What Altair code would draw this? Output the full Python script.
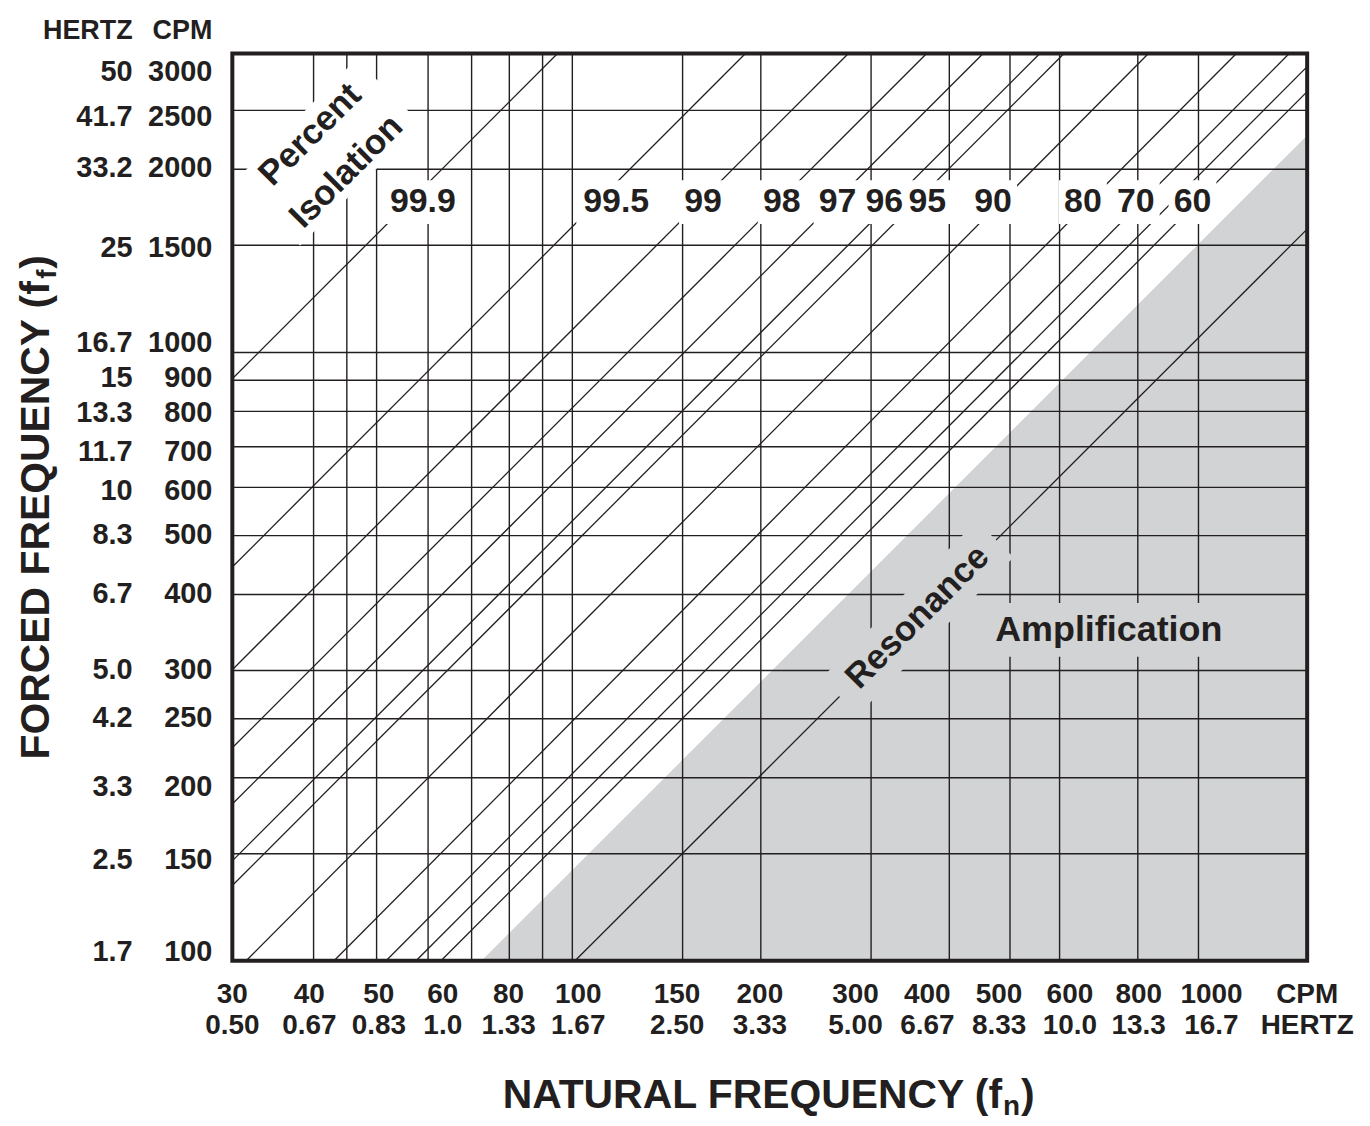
import altair as alt
import pandas as pd

FONT = "Liberation Sans, Arial, Helvetica, sans-serif"
INK = "#231f20"
GRAY = "#d1d3d4"
W, H = 1078, 910

# ---------------- data ----------------
# grid lines (CPM)
x_grid_cpm = [40, 45, 50, 60, 70, 80, 90, 100, 150, 200, 300, 400, 500, 600, 800, 1000]
y_grid_cpm = [150, 200, 250, 300, 400, 500, 600, 700, 800, 900, 1000, 1500, 2000, 2500]

# x axis labels (two rows), anchored where the reference prints them
x_label_anchor = [30, 39.4, 50.4, 63.2, 79.8, 102.2, 147.0, 199.3, 283.3, 368.9, 480.3,
                  623.2, 802.7, 1049.5, 1500]
x_label_cpm = ["30", "40", "50", "60", "80", "100", "150", "200", "300", "400", "500",
               "600", "800", "1000", "CPM"]
x_label_hz = ["0.50", "0.67", "0.83", "1.0", "1.33", "1.67", "2.50", "3.33", "5.00",
              "6.67", "8.33", "10.0", "13.3", "16.7", "HERTZ"]

# y axis labels (two columns), anchored where the reference prints them
y_label_anchor = [2888, 2437, 2011, 1487, 1035, 907, 795, 686, 592, 501, 401, 301, 250.5, 193, 146.6, 103.2]
y_label_cpm = ["3000", "2500", "2000", "1500", "1000", "900", "800", "700", "600", "500",
               "400", "300", "250", "200", "150", "100"]
y_label_hz = ["50", "41.7", "33.2", "25", "16.7", "15", "13.3", "11.7", "10", "8.3",
              "6.7", "5.0", "4.2", "3.3", "2.5", "1.7"]

# percent-isolation lines: start / end points (natural freq CPM, forced freq CPM)
iso_pct = ["99.9", "99.5", "99", "98", "97", "96", "95", "90", "80", "70", "60", "50"]
iso_fn_start = [30, 30, 30, 30, 30, 30, 30, 31.5, 43.0, 51.7, 57.5, 62.8]
iso_f_start = [905, 444, 301, 224, 181, 146, 133, 100, 100, 100, 100, 100]
iso_fn_end = [94.9, 189, 276, 368, 453, 558, 610, 832, 1152, 1403, 1500, 1500]
iso_f_end = [3100, 3100, 3100, 3100, 3100, 3100, 3100, 3100, 3100, 3100, 2950, 2684]

# resonance line
res_fn = [101, 1500]
res_f = [100, 1595]

# amplification region boundary
amp_fn = [72.5, 1500]
amp_f = [100, 2274]

# labels of the isolation lines
label_pct = ["99.9", "99.5", "99", "98", "97", "96", "95", "90", "80", "70", "60"]
label_fn = [58.9, 117.5, 161.7, 216.0, 265.2, 315.0, 368.9, 469.9, 653.7, 794.0, 978.2]
label_f = [1766] * 11

# annotation anchors
pct_text = ["Percent", "Isolation"]
pct_fn = [39.5, 44.9]
pct_f = [2282, 1985]
pct_mask_fn = [34.0, 52.2]
pct_mask_f = [1695, 2683]
res_text_fn, res_text_f = 355.6, 367.5
res_mask_fn = [267.2, 473.4]
res_mask_f = [271.8, 493.3]
amp_text_fn, amp_text_f = 719, 350

# ---------------- scales ----------------
xs = alt.Scale(type="log", domain=[30, 100, 1000, 1500], range=[0, 341, 969, 1078], nice=False)
ys = alt.Scale(type="log", domain=[100, 3100], nice=False)


def X(f):
    return alt.X(f, type="quantitative", scale=xs, axis=None)


def Y(f):
    return alt.Y(f, type="quantitative", scale=ys, axis=None)


one = pd.DataFrame({"k": [0]})

amp_df = pd.DataFrame({"fn": amp_fn, "f": amp_f, "base": [100, 100]})
area = alt.Chart(amp_df).mark_area(color=GRAY).encode(x=X("fn"), y=Y("f"), y2=alt.Y2("base"))

vgrid = alt.Chart(pd.DataFrame({"v": x_grid_cpm})).mark_rule(color=INK, strokeWidth=1.4).encode(x=X("v"))
hgrid = alt.Chart(pd.DataFrame({"v": y_grid_cpm})).mark_rule(color=INK, strokeWidth=1.4).encode(y=Y("v"))

iso_df = pd.DataFrame({"pct": iso_pct, "fn": iso_fn_start, "f": iso_f_start,
                       "fn2": iso_fn_end, "f2": iso_f_end})
iso = alt.Chart(iso_df).mark_rule(color=INK, strokeWidth=1.3).encode(
    x=X("fn"), y=Y("f"), x2=alt.X2("fn2"), y2=alt.Y2("f2"))

res_df = pd.DataFrame({"fn": [res_fn[0]], "f": [res_f[0]], "fn2": [res_fn[1]], "f2": [res_f[1]]})
res = alt.Chart(res_df).mark_rule(color=INK, strokeWidth=1.3).encode(
    x=X("fn"), y=Y("f"), x2=alt.X2("fn2"), y2=alt.Y2("f2"))

lab_df = pd.DataFrame({"pct": label_pct, "fn": label_fn, "f": label_f})
wide = lab_df[lab_df["pct"].isin(["99.9", "99.5"])]
narrow = lab_df[~lab_df["pct"].isin(["99.9", "99.5"])]
box_wide = alt.Chart(wide).mark_rect(color="white", xOffset=-40, x2Offset=40, yOffset=-22, y2Offset=22).encode(
    x=X("fn"), x2=alt.X2("fn"), y=Y("f"), y2=alt.Y2("f"))
box_narrow = alt.Chart(narrow).mark_rect(color="white", xOffset=-24, x2Offset=24, yOffset=-22, y2Offset=22).encode(
    x=X("fn"), x2=alt.X2("fn"), y=Y("f"), y2=alt.Y2("f"))

pm_df = pd.DataFrame({"fn": [pct_mask_fn[0]], "f": [pct_mask_f[0]], "fn2": [pct_mask_fn[1]], "f2": [pct_mask_f[1]]})
pct_mask = alt.Chart(pm_df).mark_rule(color="white", strokeWidth=92, strokeCap="butt").encode(
    x=X("fn"), y=Y("f"), x2=alt.X2("fn2"), y2=alt.Y2("f2"))

rm_df = pd.DataFrame({"fn": [res_mask_fn[0]], "f": [res_mask_f[0]], "fn2": [res_mask_fn[1]], "f2": [res_mask_f[1]]})
res_mask = alt.Chart(rm_df).mark_rule(color=GRAY, strokeWidth=52, strokeCap="butt").encode(
    x=X("fn"), y=Y("f"), x2=alt.X2("fn2"), y2=alt.Y2("f2"))

am_df = pd.DataFrame({"fn": [amp_text_fn], "f": [amp_text_f]})
amp_mask = alt.Chart(am_df).mark_rect(color=GRAY, xOffset=-122, x2Offset=122, yOffset=-27, y2Offset=27).encode(
    x=X("fn"), x2=alt.X2("fn"), y=Y("f"), y2=alt.Y2("f"))

txt = dict(font=FONT, fontWeight="bold", color=INK)

band_labels = alt.Chart(lab_df).mark_text(fontSize=34, baseline="middle", **txt).encode(
    x=X("fn"), y=Y("f"), text=alt.Text("pct:N"))

pct_df = pd.DataFrame({"t": pct_text, "fn": pct_fn, "f": pct_f})
pct_labels = alt.Chart(pct_df).mark_text(fontSize=35, angle=315, baseline="middle", **txt).encode(
    x=X("fn"), y=Y("f"), text=alt.Text("t:N"))

res_label = alt.Chart(pd.DataFrame({"fn": [res_text_fn], "f": [res_text_f]})).mark_text(
    text="Resonance", fontSize=35, angle=315, baseline="middle", **txt).encode(x=X("fn"), y=Y("f"))

amp_label = alt.Chart(am_df).mark_text(text="Amplification", fontSize=36, baseline="middle", **txt).encode(
    x=X("fn"), y=Y("f"))

xl_df = pd.DataFrame({"pos": x_label_anchor, "cpm": x_label_cpm, "hz": x_label_hz})
x_row1 = alt.Chart(xl_df).mark_text(fontSize=28, baseline="alphabetic", **txt).encode(
    x=X("pos"), y=alt.value(952), text=alt.Text("cpm:N"))
x_row2 = alt.Chart(xl_df).mark_text(fontSize=28, baseline="alphabetic", **txt).encode(
    x=X("pos"), y=alt.value(983), text=alt.Text("hz:N"))

yl_df = pd.DataFrame({"pos": y_label_anchor, "cpm": y_label_cpm, "hz": y_label_hz})
y_col_hz = alt.Chart(yl_df).mark_text(fontSize=29, align="right", baseline="middle", **txt).encode(
    x=alt.value(-100), y=Y("pos"), text=alt.Text("hz:N"))
y_col_cpm = alt.Chart(yl_df).mark_text(fontSize=29, align="right", baseline="middle", **txt).encode(
    x=alt.value(-20), y=Y("pos"), text=alt.Text("cpm:N"))

hdr_hz = alt.Chart(one).mark_text(text="HERTZ", fontSize=27, align="right", baseline="alphabetic", **txt).encode(
    x=alt.value(-100), y=alt.value(-15))
hdr_cpm = alt.Chart(one).mark_text(text="CPM", fontSize=27, align="right", baseline="alphabetic", **txt).encode(
    x=alt.value(-20), y=alt.value(-15))

# axis titles (with subscripts)
xt_main = alt.Chart(one).mark_text(text="NATURAL FREQUENCY (f", fontSize=41, align="right",
                                   baseline="alphabetic", **txt).encode(x=alt.value(772), y=alt.value(1058))
xt_sub = alt.Chart(one).mark_text(text="n", fontSize=28, align="left",
                                  baseline="alphabetic", **txt).encode(x=alt.value(773), y=alt.value(1065))
xt_par = alt.Chart(one).mark_text(text=")", fontSize=41, align="left",
                                  baseline="alphabetic", **txt).encode(x=alt.value(791), y=alt.value(1058))

yt_main = alt.Chart(one).mark_text(text="FORCED FREQUENCY (f", fontSize=41, align="left", angle=270,
                                   baseline="alphabetic", **txt).encode(x=alt.value(-184), y=alt.value(708))
yt_sub = alt.Chart(one).mark_text(text="f", fontSize=28, align="left", angle=270,
                                  baseline="alphabetic", **txt).encode(x=alt.value(-177), y=alt.value(226))
yt_par = alt.Chart(one).mark_text(text=")", fontSize=41, align="left", angle=270,
                                  baseline="alphabetic", **txt).encode(x=alt.value(-184), y=alt.value(216))

frame_df = pd.DataFrame({"x": [30], "x2": [1500], "y": [100], "y2": [3100]})
frame = alt.Chart(frame_df).mark_rect(fillOpacity=0, stroke=INK, strokeWidth=4).encode(
    x=X("x"), x2=alt.X2("x2"), y=Y("y"), y2=alt.Y2("y2"))

chart = alt.layer(
    area, vgrid, hgrid, iso, res,
    box_wide, box_narrow, pct_mask, res_mask, amp_mask,
    band_labels, pct_labels, res_label, amp_label,
    x_row1, x_row2, y_col_hz, y_col_cpm, hdr_hz, hdr_cpm,
    xt_main, xt_sub, xt_par, yt_main, yt_sub, yt_par,
    frame,
).properties(
    width=W, height=H,
    padding={"left": 225, "top": 44, "right": 55, "bottom": 160},
    autosize=alt.AutoSizeParams(type="none"),
    background="white",
).configure_view(strokeWidth=0)

chart.save("out.html", embed_options={"renderer": "svg", "actions": False})
